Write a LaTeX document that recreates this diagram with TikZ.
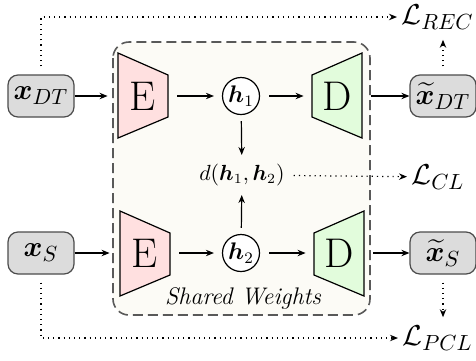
\documentclass[tikz,border=0pt]{standalone}
\definecolor{encfill}{HTML}{FFE0E0}
\definecolor{decfill}{HTML}{E2FCDC}
\definecolor{boxfill}{HTML}{FCFBF6}
\definecolor{datafill}{HTML}{DCDCDC}
\usepackage{amsmath}
\usepackage{bm}
\usepackage{tikz}
\usetikzlibrary{arrows.meta, positioning, calc}

\begin{document}
\begin{tikzpicture}[x=0.5pt, y=-0.5pt,
  arr/.style={-{Stealth[length=4pt,width=3.2pt]}, semithick, shorten <=4.5pt, shorten >=4pt},
  dotarr/.style={-{Stealth[length=4pt,width=3.2pt]}, semithick, dotted},
  datanode/.style={draw=black!70, semithick, fill=datafill, rounded corners=5pt, minimum width=33pt, minimum height=21pt, inner sep=1pt, font=\fontsize{15.5pt}{18pt}\selectfont},
  latent/.style={draw, semithick, fill=white, circle, minimum size=18.5pt, inner sep=0pt, font=\large},
  coder/.style={minimum width=25pt, minimum height=42pt, inner sep=0pt, font=\huge},
  loss/.style={font=\fontsize{15.2pt}{18pt}\selectfont, anchor=west, inner sep=1pt}]
  \useasboundingbox (0,0) rectangle (476,360);
  % shared weights
  \draw[black!65, thick, dash pattern=on 5pt off 2.5pt, fill=boxfill, rounded corners=8pt] (113,42) rectangle (370,315);
  \node[font=\large\itshape] (shared) at (243,298) {Shared Weights};
  % encoders and decoders
  \filldraw[fill=encfill, semithick] (118,53) -- (168,75) -- (168,117) -- (118,138) -- cycle;
  \filldraw[fill=encfill, semithick] (120,211) -- (170,233) -- (170,275) -- (120,296) -- cycle;
  \filldraw[fill=decfill, semithick] (312,75) -- (362,53) -- (362,138) -- (312,117) -- cycle;
  \filldraw[fill=decfill, semithick] (314,233) -- (364,211) -- (364,296) -- (314,275) -- cycle;
  \node[coder] (enc1) at (143,96) {E};
  \node[coder] (enc2) at (145,253) {E};
  \node[coder] (dec1) at (337,96) {D};
  \node[coder] (dec2) at (339,253) {D};
  % inputs, latents and outputs
  \node[datanode] (xdt) at (41,96) {$\bm{x}_{DT}$};
  \node[datanode] (xs) at (41,253) {$\bm{x}_{S}$};
  \node[datanode] (xtdt) at (443,96) {$\widetilde{\bm{x}}_{DT}$};
  \node[datanode] (xts) at (443,253) {$\widetilde{\bm{x}}_{S}$};
  \node[latent] (h1) at (241,96) {$\bm{h}_1$};
  \node[latent] (h2) at (241,253) {$\bm{h}_2$};
  \node[font=\fontsize{10.5pt}{12pt}\selectfont] (dist) at (242,175) {$d(\bm{h}_1, \bm{h}_2)$};
  % losses
  \node[loss] (lrec) at (399,17) {$\mathcal{L}_{REC}$};
  \node[loss] (lcl) at (409,177) {$\mathcal{L}_{CL}$};
  \node[loss] (lpcl) at (400,338) {$\mathcal{L}_{PCL}$};
  % connectors
  \draw[arr, shorten <=0pt, shorten >=5pt] (xdt) -- (enc1);
  \draw[arr, shorten <=0pt, shorten >=5pt] (xs) -- (enc2);
  \draw[arr] (enc1) -- (h1);
  \draw[arr] (enc2) -- (h2);
  \draw[arr] (h1) -- (dec1);
  \draw[arr] (h2) -- (dec2);
  \draw[arr, shorten >=0pt] (dec1) -- (xtdt);
  \draw[arr, shorten >=0pt] (dec2) -- (xts);
  \draw[arr, shorten <=3pt, shorten >=1pt] (h1) -- (dist);
  \draw[arr, shorten <=3pt, shorten >=1pt] (h2) -- (dist);
  \draw[dotarr, shorten <=1pt, shorten >=1pt] (dist) -- (lcl);
  \draw[dotarr, shorten <=4pt, shorten >=1pt] (xdt.north) |- (lrec.west);
  \draw[dotarr, shorten <=4pt, shorten >=1pt] (xs.south) |- (lpcl.west);
  \draw[dotarr, shorten <=4pt, shorten >=4pt] (xtdt.north) -- (xtdt.north |- lrec.south);
  \draw[dotarr, shorten <=4pt, shorten >=3pt] (xts.south) -- (xts.south |- lpcl.north);
\end{tikzpicture}
\end{document}
